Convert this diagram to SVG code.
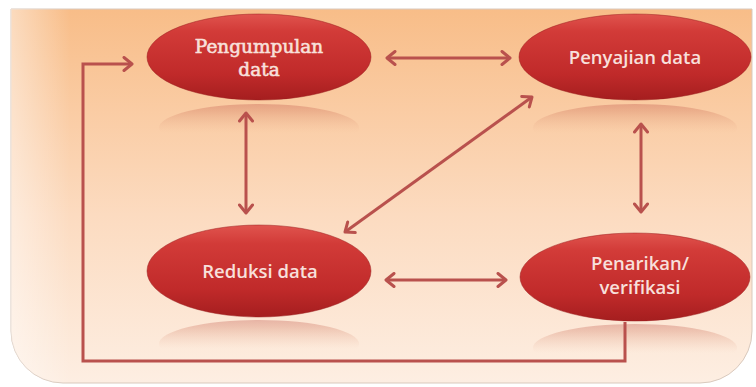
<svg xmlns="http://www.w3.org/2000/svg" width="756" height="387" viewBox="0 0 756 387">
<defs>
<linearGradient id="bg" x1="0" y1="0" x2="0" y2="1">
<stop offset="0" stop-color="#f8bd88"/>
<stop offset="0.55" stop-color="#fcdbc0"/>
<stop offset="1" stop-color="#fdeee2"/>
</linearGradient>
<linearGradient id="bgl" x1="0" y1="0" x2="1" y2="0">
<stop offset="0" stop-color="#ffffff" stop-opacity="0.45"/>
<stop offset="1" stop-color="#ffffff" stop-opacity="0"/>
</linearGradient>
<linearGradient id="red" x1="0" y1="0" x2="0" y2="1">
<stop offset="0" stop-color="#e0544e"/>
<stop offset="0.2" stop-color="#d23b38"/>
<stop offset="0.7" stop-color="#c02a2a"/>
<stop offset="1" stop-color="#a51e1f"/>
</linearGradient>
<linearGradient id="refl" x1="0" y1="0" x2="0" y2="1">
<stop offset="0" stop-color="#c0554a" stop-opacity="0.35"/>
<stop offset="0.15" stop-color="#c8664f" stop-opacity="0.28"/>
<stop offset="0.6" stop-color="#e0a080" stop-opacity="0"/>
</linearGradient>
<marker id="ah" markerUnits="userSpaceOnUse" markerWidth="16" markerHeight="16" viewBox="0 0 16 16" refX="12" refY="8" orient="auto-start-reverse">
<path d="M4,1.5 L12,8 L4,14.5" fill="none" stroke="#b9514d" stroke-width="3" stroke-linecap="round" stroke-linejoin="round"/>
</marker>
<style>
.node{fill:url(#red);stroke:#9c2020;stroke-width:1;stroke-opacity:0.5}
.refl{fill:url(#refl)}
.conn{fill:none;stroke:#b9514d;stroke-width:3}
.two{marker-start:url(#ah);marker-end:url(#ah)}
.serif{font-family:'DejaVu Serif','Liberation Serif',serif;font-size:18.5px;fill:#f8e0dc;stroke:#f8e0dc;stroke-width:0.6px;text-anchor:middle}
.sans{font-family:'Open Sans','Liberation Sans',sans-serif;font-size:18.5px;font-weight:600;fill:#f8e0dc;text-anchor:middle}
</style>
</defs>
<g id="background">
<path d="M11,9 H752 V331 A52,52 0 0 1 700,383 H63 A52,52 0 0 1 11,331 Z" fill="url(#bg)" stroke="#d9c9bd" stroke-width="1"/>
<path d="M11,9 H70 V383 H63 A52,52 0 0 1 11,331 Z" fill="url(#bgl)"/>
</g>
<g id="node-pengumpulan">
<ellipse class="refl" cx="259" cy="128" rx="100" ry="24"/>
<ellipse class="node" cx="259" cy="57" rx="112" ry="43"/>
<text class="serif" x="259" y="53">Pengumpulan</text>
<text class="serif" x="259" y="76">data</text>
</g>
<g id="node-penyajian">
<ellipse class="refl" cx="635" cy="128" rx="102" ry="24"/>
<ellipse class="node" cx="635" cy="57" rx="116" ry="43"/>
<text class="sans" x="635" y="64">Penyajian data</text>
</g>
<g id="node-reduksi">
<ellipse class="refl" cx="259" cy="344" rx="100" ry="24"/>
<ellipse class="node" cx="259" cy="271" rx="112" ry="46"/>
<text class="sans" x="260" y="278">Reduksi data</text>
</g>
<g id="node-penarikan">
<ellipse class="refl" cx="635" cy="348" rx="102" ry="24"/>
<ellipse class="node" cx="635" cy="277" rx="115" ry="44"/>
<text class="sans" x="640" y="270">Penarikan/</text>
<text class="sans" x="640" y="294">verifikasi</text>
</g>
<g id="connectors">
<line class="conn two" x1="387" y1="58" x2="510" y2="58"/>
<line class="conn two" x1="246" y1="113" x2="246" y2="213"/>
<line class="conn two" x1="641" y1="124" x2="641" y2="212"/>
<line class="conn two" x1="532" y1="97" x2="345" y2="232"/>
<line class="conn two" x1="386" y1="280" x2="506" y2="280"/>
<polyline class="conn" points="625,322 625,361 83,361 83,64 132,64" marker-end="url(#ah)"/>
</g>
</svg>
